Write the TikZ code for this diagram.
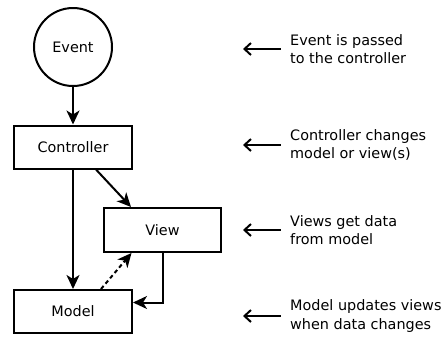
\documentclass[tikz,border=0pt]{standalone}
\usepackage{fontspec}
\setmainfont{DejaVu Sans}
\usetikzlibrary{arrows.meta}
\begin{document}
\begin{tikzpicture}[x=1pt,y=-1pt,
  every node/.style={font=\fontsize{14.4}{18.5}\selectfont},
  box/.style={draw,line width=2pt,minimum width=118pt,minimum height=43pt,inner sep=0pt},
  flow/.style={line width=2pt,-{Stealth[length=14pt,width=13pt,inset=4pt]}},
  note/.style={line width=2pt,{Straight Barb[length=6.5pt,width=12pt]}-},
  caption/.style={anchor=west,align=left,inner sep=0pt}]
  \useasboundingbox (0,0) rectangle (446,338);
  % components
  \node[draw,circle,line width=2pt,minimum size=78pt,inner sep=0pt] (event) at (73,47) {Event};
  \node[box] (ctrl) at (73,147) {Controller};
  \node[box,minimum width=117pt,minimum height=44pt] (view) at (162.5,230) {View};
  \node[box] (model) at (73,311.5) {Model};
  % flow between components
  \draw[flow] (event) -- (ctrl);
  \draw[flow] (ctrl) -- (model);
  \draw[flow] (ctrl.south) ++(23,0) coordinate (c1) -- (view.north west -| 131,0) coordinate (v1);
  \coordinate (mr) at ([yshift=9pt]model.east);
  \draw[flow] (view.south) |- (mr);
  \draw[flow,dashed,dash pattern=on 4pt off 3pt] ([xshift=28pt]model.north) -- ([xshift=-31pt]view.south);
  % explanations
  \foreach \y/\t [count=\i] in {49/{Event is passed\\to the controller},
                     145/{Controller changes\\model or view(s)},
                     230/{Views get data\\from model},
                     316/{Model updates views\\when data changes}} {
    \coordinate (a\i) at (243,\y);
    \coordinate (b\i) at (281,\y);
    \draw[note] (a\i) -- (b\i);
    \node[caption] (t\i) at (290,\y) {\t};
  }
\end{tikzpicture}
\end{document}
